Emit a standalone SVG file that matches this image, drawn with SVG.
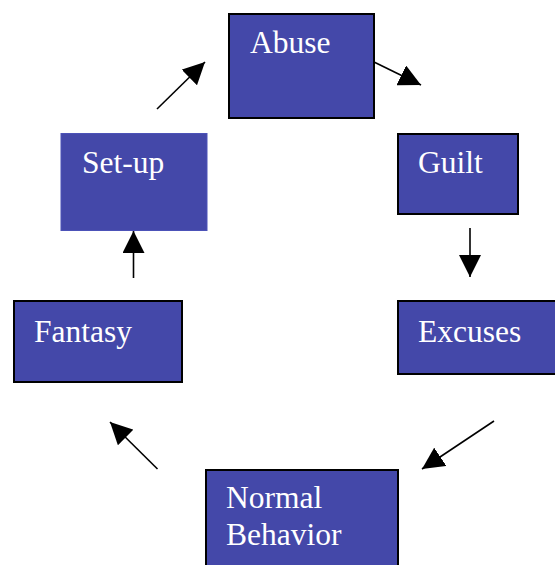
<svg xmlns="http://www.w3.org/2000/svg" width="555" height="565" viewBox="0 0 555 565">
<defs>
<style>
.box{fill:#4448A9;stroke:#000;stroke-width:2}
.plain{fill:#4448A9;stroke:#4C52B8;stroke-width:1}
.lbl{font-family:"Liberation Serif","Times New Roman",serif;font-size:31.5px;fill:#fff}
.con{stroke:#000;stroke-width:1.6;fill:none;marker-end:url(#ah)}
</style>
<marker id="ah" markerUnits="userSpaceOnUse" markerWidth="22" markerHeight="22" refX="20" refY="10" orient="auto" viewBox="0 0 20 20">
<path d="M0,0 L20,10 L0,20 z" fill="#000"/>
</marker>
</defs>
<rect width="555" height="565" fill="#fff"/>
<g id="connectors">
<line class="con" x1="157" y1="109" x2="205" y2="62"/>
<line class="con" x1="374" y1="62" x2="421" y2="85"/>
<line class="con" x1="470" y1="228" x2="470" y2="277"/>
<line class="con" x1="494" y1="421" x2="422" y2="469"/>
<line class="con" x1="157.5" y1="469" x2="110" y2="422"/>
<line class="con" x1="133.5" y1="278" x2="133.5" y2="231"/>
</g>
<g id="abuse">
<rect class="box" x="229" y="14" width="145" height="104"/>
<text class="lbl" x="250" y="53">Abuse</text>
</g>
<g id="setup">
<rect class="plain" x="61" y="133.5" width="146" height="97"/>
<text class="lbl" x="82" y="173">Set-up</text>
</g>
<g id="guilt">
<rect class="box" x="398" y="134" width="120" height="80"/>
<text class="lbl" x="418" y="173">Guilt</text>
</g>
<g id="fantasy">
<rect class="box" x="14" y="301" width="168" height="81"/>
<text class="lbl" x="34" y="342">Fantasy</text>
</g>
<g id="excuses">
<rect class="box" x="398" y="301" width="160" height="73"/>
<text class="lbl" x="418" y="342">Excuses</text>
</g>
<g id="normal">
<rect class="box" x="206" y="470" width="192" height="100"/>
<text class="lbl" x="226" y="508">Normal</text>
<text class="lbl" x="226" y="545">Behavior</text>
</g>
</svg>
